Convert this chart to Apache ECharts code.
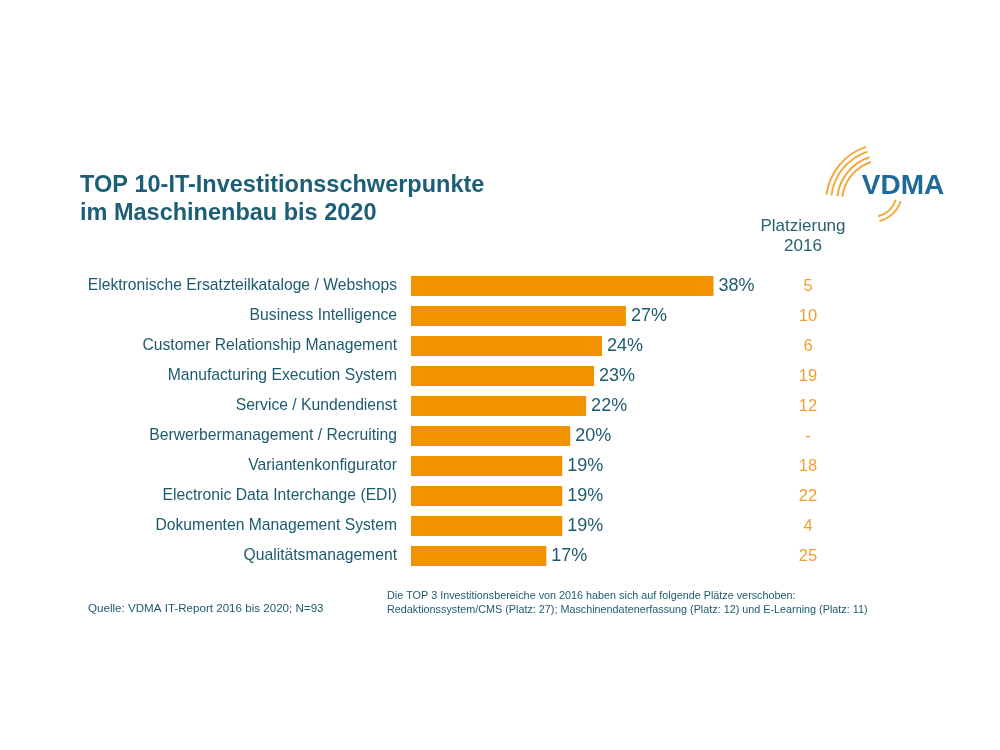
<!DOCTYPE html>
<html>
<head>
<meta charset="utf-8">
<script src="https://cdn.jsdelivr.net/npm/echarts@6/dist/echarts.min.js"></script>
<style>
  html, body { margin: 0; padding: 0; background: #fff; }
  #main { width: 1000px; height: 750px; }
</style>
</head>
<body>
<div id="main"></div>
<script>
// categories top to bottom
var categories = [
    'Elektronische Ersatzteilkataloge / Webshops',
    'Business Intelligence',
    'Customer Relationship Management',
    'Manufacturing Execution System',
    'Service / Kundendienst',
    'Berwerbermanagement / Recruiting',
    'Variantenkonfigurator',
    'Electronic Data Interchange (EDI)',
    'Dokumenten Management System',
    'Qualitätsmanagement'
];
var values = [38, 27, 24, 23, 22, 20, 19, 19, 19, 17];
var rank2016 = ['5', '10', '6', '19', '12', '-', '18', '22', '4', '25'];

var teal = '#1d5a6e';
var orange = '#f39200';
var font = 'Liberation Sans, Arial, sans-serif';

var chart = echarts.init(document.getElementById('main'));

// logo arcs
var arcs = [];
[42, 47, 53, 58].forEach(function(r) {
    arcs.push({
        type: 'arc',
        shape: { cx: 884, cy: 202, r: r, startAngle: Math.PI * 1.04, endAngle: Math.PI * 1.40 },
        style: { stroke: '#f2a93b', lineWidth: 2, fill: null }
    });
});
[25, 30].forEach(function(r) {
    arcs.push({
        type: 'arc',
        shape: { cx: 872, cy: 192, r: r, startAngle: Math.PI * 0.1, endAngle: Math.PI * 0.42 },
        style: { stroke: '#f2a93b', lineWidth: 2, fill: null }
    });
});

var option = {
    animation: false,
    backgroundColor: '#fff',
    grid: { left: 411, top: 271, width: 398, height: 300 },
    xAxis: {
        type: 'value',
        min: 0,
        max: 50,
        show: false
    },
    yAxis: [{
        type: 'category',
        data: categories,
        inverse: true,
        axisLine: { show: false },
        axisTick: { show: false },
        axisLabel: {
            margin: 14,
            color: teal,
            fontSize: 15.7,
            fontFamily: font
        }
    }, {
        type: 'category',
        data: rank2016,
        inverse: true,
        position: 'right',
        axisLine: { show: false },
        axisTick: { show: false },
        axisLabel: {
            margin: -1,
            align: 'center',
            color: '#f0a030',
            fontSize: 16.5,
            fontFamily: font
        }
    }],
    series: [{
        type: 'bar',
        data: values,
        barWidth: 20,
        itemStyle: { color: orange },
        label: {
            show: true,
            position: 'right',
            distance: 5,
            formatter: '{c}%',
            color: teal,
            fontSize: 18,
            fontFamily: font
        }
    }],
    graphic: [
        {
            type: 'text', left: 80, top: 172,
            style: {
                text: 'TOP 10-IT-Investitionsschwerpunkte\nim Maschinenbau bis 2020',
                fill: '#1b5e76',
                font: 'bold 23.5px ' + font,
                lineHeight: 28
            }
        },
        {
            type: 'text', x: 903, y: 186,
            style: {
                text: 'VDMA',
                fill: '#1e6a98',
                font: 'bold 28px ' + font,
                align: 'center',
                verticalAlign: 'middle'
            }
        },
        {
            type: 'text', x: 803, y: 216,
            style: {
                text: 'Platzierung\n2016',
                fill: '#2a6070',
                font: '17px ' + font,
                align: 'center',
                lineHeight: 20
            }
        },
        {
            type: 'text', left: 88, top: 603,
            style: {
                text: 'Quelle: VDMA IT-Report 2016 bis 2020; N=93',
                fill: teal,
                font: '11.6px ' + font
            }
        },
        {
            type: 'text', left: 387, top: 589,
            style: {
                text: 'Die TOP 3 Investitionsbereiche von 2016 haben sich auf folgende Plätze verschoben:\nRedaktionssystem/CMS (Platz: 27); Maschinendatenerfassung (Platz: 12) und E-Learning (Platz: 11)',
                fill: teal,
                font: '10.8px ' + font,
                lineHeight: 14
            }
        }
    ].concat(arcs)
};

chart.setOption(option);
</script>
</body>
</html>
